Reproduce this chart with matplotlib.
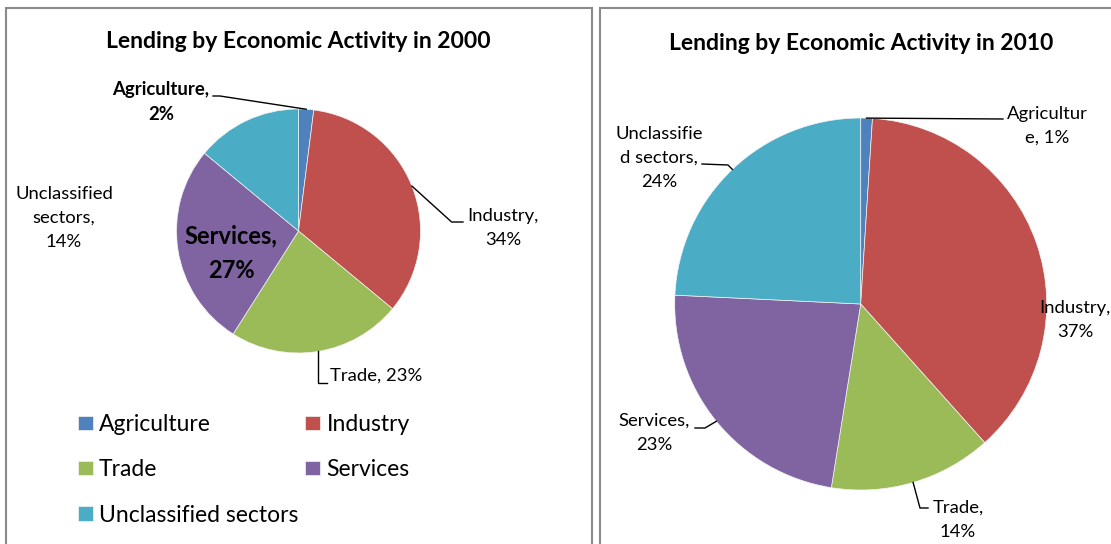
import numpy as np
import matplotlib.pyplot as plt
from matplotlib.patches import Rectangle

plt.rcParams['font.family'] = ['Lato', 'DejaVu Sans']

categories = ['Agriculture', 'Industry', 'Trade', 'Services', 'Unclassified sectors']
colors = ['#4F81BD', '#C0504D', '#9BBB59', '#8064A2', '#4BACC6']

share_2000 = [2, 34, 23, 27, 14]
share_2010 = [1, 37, 14, 23, 24]

labels_2000 = ['Agriculture,\n{}%', 'Industry,\n{}%', 'Trade, {}%',
               'Services,\n{}%', 'Unclassified\nsectors,\n{}%']
labels_2010 = ['Agricultur\ne, {}%', 'Industry,\n{}%', 'Trade,\n{}%',
               'Services,\n{}%', 'Unclassifie\nd sectors,\n{}%']

W, H = 1111, 544
fig = plt.figure(figsize=(W / 100, H / 100), dpi=100)
ax = fig.add_axes([0, 0, 1, 1])


def Y(y):
    # work in screen pixels, y measured from the top
    return H - y


def edge(wedge, frac=0.5):
    # point on the rim at the middle of a wedge
    t = np.radians(wedge.theta1 + frac * (wedge.theta2 - wedge.theta1))
    cx, cy = wedge.center
    return cx + wedge.r * np.cos(t), cy + wedge.r * np.sin(t)


def leader(points):
    xs = [p[0] for p in points]
    ys = [p[1] for p in points]
    ax.plot(xs, ys, color='black', lw=1.0, solid_joinstyle='miter')


# panel frames
for x0, x1 in [(5.5, 592), (600, 1120)]:
    ax.add_patch(Rectangle((x0, -10), x1 - x0, Y(7.5) + 10, fill=False,
                           edgecolor='#8a8a8a', lw=1.5))

# --- 2000 ---
w0, _ = ax.pie(share_2000, colors=colors, startangle=90, counterclock=False,
               center=(298.5, Y(231)), radius=122,
               wedgeprops=dict(linewidth=0.5, edgecolor='#f4f4f4'))
ax.text(298, Y(42), 'Lending by Economic Activity in 2000', ha='center', va='center',
        fontsize=16.5, fontweight='bold')

pos_2000 = [(161, 102), (503, 228), (376, 376), (231, 253), (64, 218)]
for i, (x, y) in enumerate(pos_2000):
    bold = i in (0, 3)
    size = 17 if i == 3 else 13.3
    ax.text(x, Y(y), labels_2000[i].format(share_2000[i]), ha='center', va='center',
            multialignment='center', fontsize=size, linespacing=1.62,
            fontweight='bold' if bold else 'normal')

leader([(213, Y(96)), (220, Y(96)), edge(w0[0])])
leader([edge(w0[1]), (451.6, Y(222)), (463, Y(222))])
leader([edge(w0[2]), (edge(w0[2])[0], Y(383)), (327, Y(383))])

order = [0, 2, 4, 1, 3]
ax.legend([w0[i] for i in order], [categories[i] for i in order], ncol=2,
          loc='upper left', bbox_to_anchor=(78, Y(414)), bbox_transform=ax.transData,
          frameon=False, fontsize=16.5, handlelength=0.64, handleheight=0.58,
          handletextpad=0.28, columnspacing=0.3, labelspacing=1.06,
          borderaxespad=0, borderpad=0)

# --- 2010 ---
w1, _ = ax.pie(share_2010, colors=colors, startangle=90, counterclock=False,
               center=(860.7, Y(304)), radius=186,
               wedgeprops=dict(linewidth=0.5, edgecolor='#f4f4f4'))
ax.text(861, Y(44), 'Lending by Economic Activity in 2010', ha='center', va='center',
        fontsize=16.5, fontweight='bold')

pos_2010 = [(1047, 126), (1075, 320), (958, 520), (654, 433), (659, 158)]
for i, (x, y) in enumerate(pos_2010):
    ax.text(x, Y(y), labels_2010[i].format(share_2010[i]), ha='center', va='center',
            multialignment='center', fontsize=13.3, linespacing=1.62)

leader([edge(w1[0]), (1003, Y(119))])
leader([(702, Y(164)), (728, Y(165)), edge(w1[4])])
leader([(695, Y(428)), (705, Y(428)), edge(w1[3])])
leader([edge(w1[2]), (920, Y(508)), (928, Y(508))])

ax.set_xlim(0, W)
ax.set_ylim(0, H)
ax.set_aspect('auto')
ax.axis('off')

fig.savefig('out.png', dpi=100)
